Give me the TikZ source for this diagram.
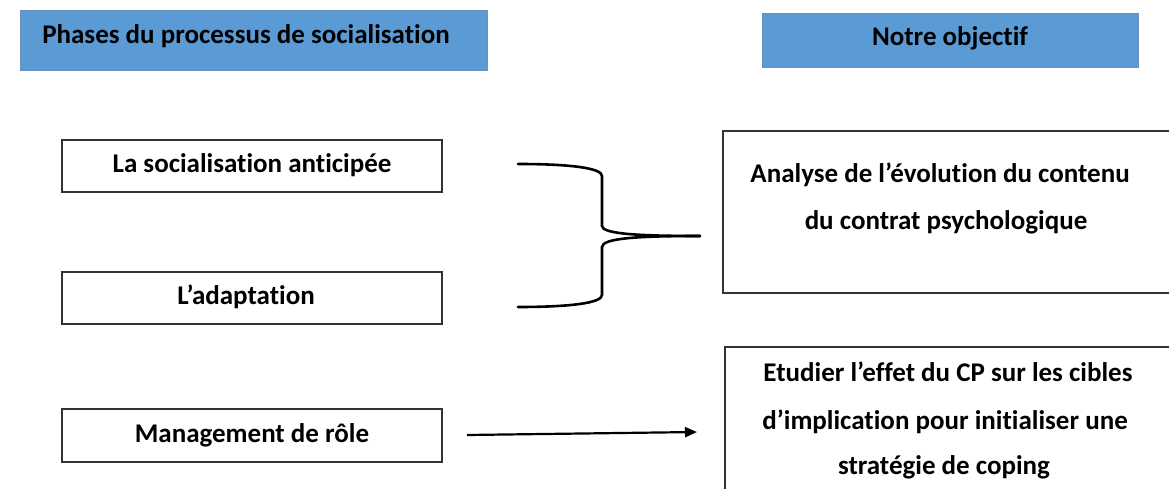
\documentclass[tikz,border=0pt]{standalone}
\usepackage{fontspec}
\setmainfont{Carlito}[RawFeature=-liga]
\usetikzlibrary{arrows.meta}
\definecolor{hdrfill}{HTML}{5B9BD5}
\definecolor{hdrline}{HTML}{6A8FB8}
\tikzset{
  hdr/.style={draw=hdrline, fill=hdrfill, line width=1pt},
  plain/.style={draw=black!80, line width=1.3pt},
  lbl/.style={font=\bfseries\fontsize{27}{32}\selectfont, inner sep=0pt, anchor=base},
  curly/.style={line width=2.6pt, line cap=round},
  arr/.style={line width=2.2pt, -{Triangle[length=12pt,width=10pt]}}
}
\begin{document}
\begin{tikzpicture}[x=1pt,y=-1pt]
\useasboundingbox (0,0) rectangle (1169,489);
% headers
\path[hdr] (20,11) rectangle (487,71);
\node[lbl] (h1) at (246,44) {Phases du processus de socialisation};
\path[hdr] (762,14) rectangle (1138,68);
\node[lbl] (h2) at (950,46) {Notre objectif};
% left boxes
\node[plain, minimum width=380pt, minimum height=52pt, inner sep=0pt] (b1) at (252,166) {};
\node[lbl] at (252,172.5) {La socialisation anticipée};
\node[plain, minimum width=380pt, minimum height=52pt, inner sep=0pt] (b2) at (252,298) {};
\node[lbl] at (246,304.5) {L’adaptation};
\node[plain, minimum width=380pt, minimum height=53pt, inner sep=0pt] (b3) at (252,435.5) {};
\node[lbl] at (252,442.5) {Management de rôle};
% right boxes
\draw[plain] (1169,131) -- (723,131) -- (723,293) -- (1169,293);
\node[lbl] (r1a) at (940,182.5) {Analyse de l’évolution du contenu};
\node[lbl] (r1b) at (946,229.5) {du contrat psychologique};
\draw[plain] (1169,347) -- (725,347) -- (725,490);
\node[lbl] (r2a) at (948,381) {Etudier l’effet du CP sur les cibles};
\node[lbl] (r2b) at (945,429) {d’implication pour initialiser une};
\node[lbl] (r2c) at (944,474) {stratégie de coping};
% brace
\coordinate (bt) at (518,164);
\coordinate (bb) at (518,307);
\coordinate (tip) at (700,236);
\draw[curly] (bt) .. controls (570,164) and (602,168) .. (602,176)
  -- (602,226) .. controls (602,234) and (640,236) .. (tip);
\draw[curly] (bb) .. controls (570,307) and (602,303) .. (602,295)
  -- (602,247) .. controls (602,238) and (640,236) .. (tip);
% arrow
\coordinate (as) at (467,435);
\coordinate (ae) at (697,432);
\draw[arr] (as) -- (ae);
\end{tikzpicture}
\end{document}
